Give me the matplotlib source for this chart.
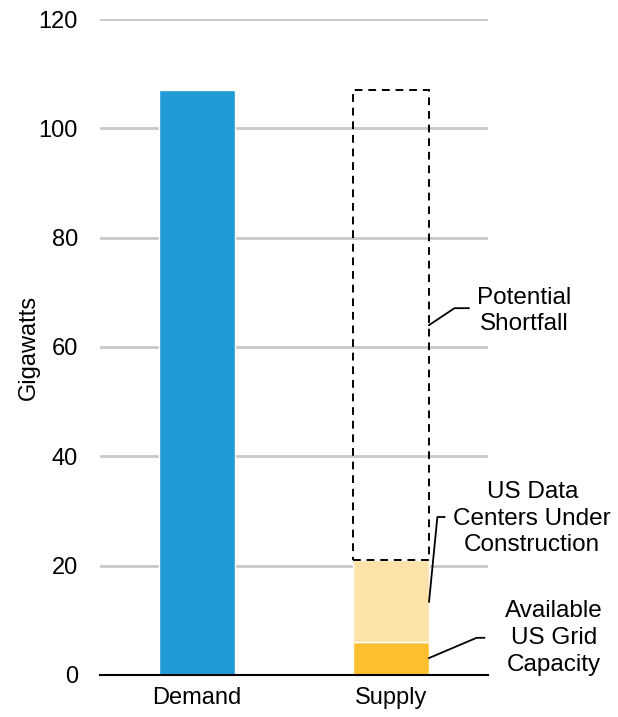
import matplotlib
matplotlib.use('Agg')
import matplotlib.pyplot as plt

plt.rcParams['font.family'] = ['Liberation Sans', 'DejaVu Sans']

# data (gigawatts)
categories = ['Demand', 'Supply']
demand = 107
grid_capacity = 6
under_construction = 15
shortfall = demand - grid_capacity - under_construction

fig = plt.figure(figsize=(6.18, 7.17), dpi=100)
ax = fig.add_axes([0.162, 0.0586, 0.628, 0.9149])

w = 0.39
ax.bar(0, demand, width=w, color='#219bd6', edgecolor='white', linewidth=1, zorder=3)
ax.bar(1, grid_capacity, width=w, color='#fdbf2d', edgecolor='white', linewidth=1, zorder=3)
ax.bar(1, under_construction, bottom=grid_capacity, width=w, color='#fde3a7',
       edgecolor='white', linewidth=1, zorder=3)
ax.bar(1, shortfall, bottom=grid_capacity + under_construction, width=w, facecolor='none',
       edgecolor='black', linestyle=(0, (4, 3)), linewidth=1.4, zorder=4)

ax.set_xlim(-0.5, 1.5)
ax.set_ylim(0, 120)
ax.set_yticks(range(0, 121, 20))
ax.set_xticks([0, 1])
ax.set_xticklabels(categories, fontsize=17)
ax.tick_params(axis='y', labelsize=17, length=0, pad=16)
ax.tick_params(axis='x', length=0, pad=9)
ax.yaxis.grid(True, color='#c8c8c8', linewidth=2, zorder=0)
for s in ['top', 'right', 'left']:
    ax.spines[s].set_visible(False)
ax.spines['bottom'].set_linewidth(1.5)
ax.spines['bottom'].set_zorder(5)
ax.set_ylabel('Gigawatts', fontsize=17)
ax.yaxis.set_label_coords(-0.154, 0.5)

# annotations with leader lines
right = 1 + w / 2
lc = dict(color='black', linewidth=1.3, clip_on=False, zorder=6)
ax.plot([right, 1.326, 1.40], [64.0, 67.1, 67.1], **lc)
ax.text(1.686, 66.6, 'Potential\nShortfall', ha='center', va='center', fontsize=17.5,
        linespacing=1.2, clip_on=False)
ax.plot([right, 1.238, 1.275], [13.4, 28.9, 28.9], **lc)
ax.text(1.727, 28.6, 'US Data\nCenters Under\nConstruction', ha='center', va='center',
        fontsize=17.5, linespacing=1.26, clip_on=False)
ax.plot([right, 1.44, 1.48], [3.1, 6.8, 6.8], **lc)
ax.text(1.84, 6.8, 'Available\nUS Grid\nCapacity', ha='center', va='center',
        fontsize=17.5, linespacing=1.3, clip_on=False)

fig.savefig('out.png', dpi=100)
